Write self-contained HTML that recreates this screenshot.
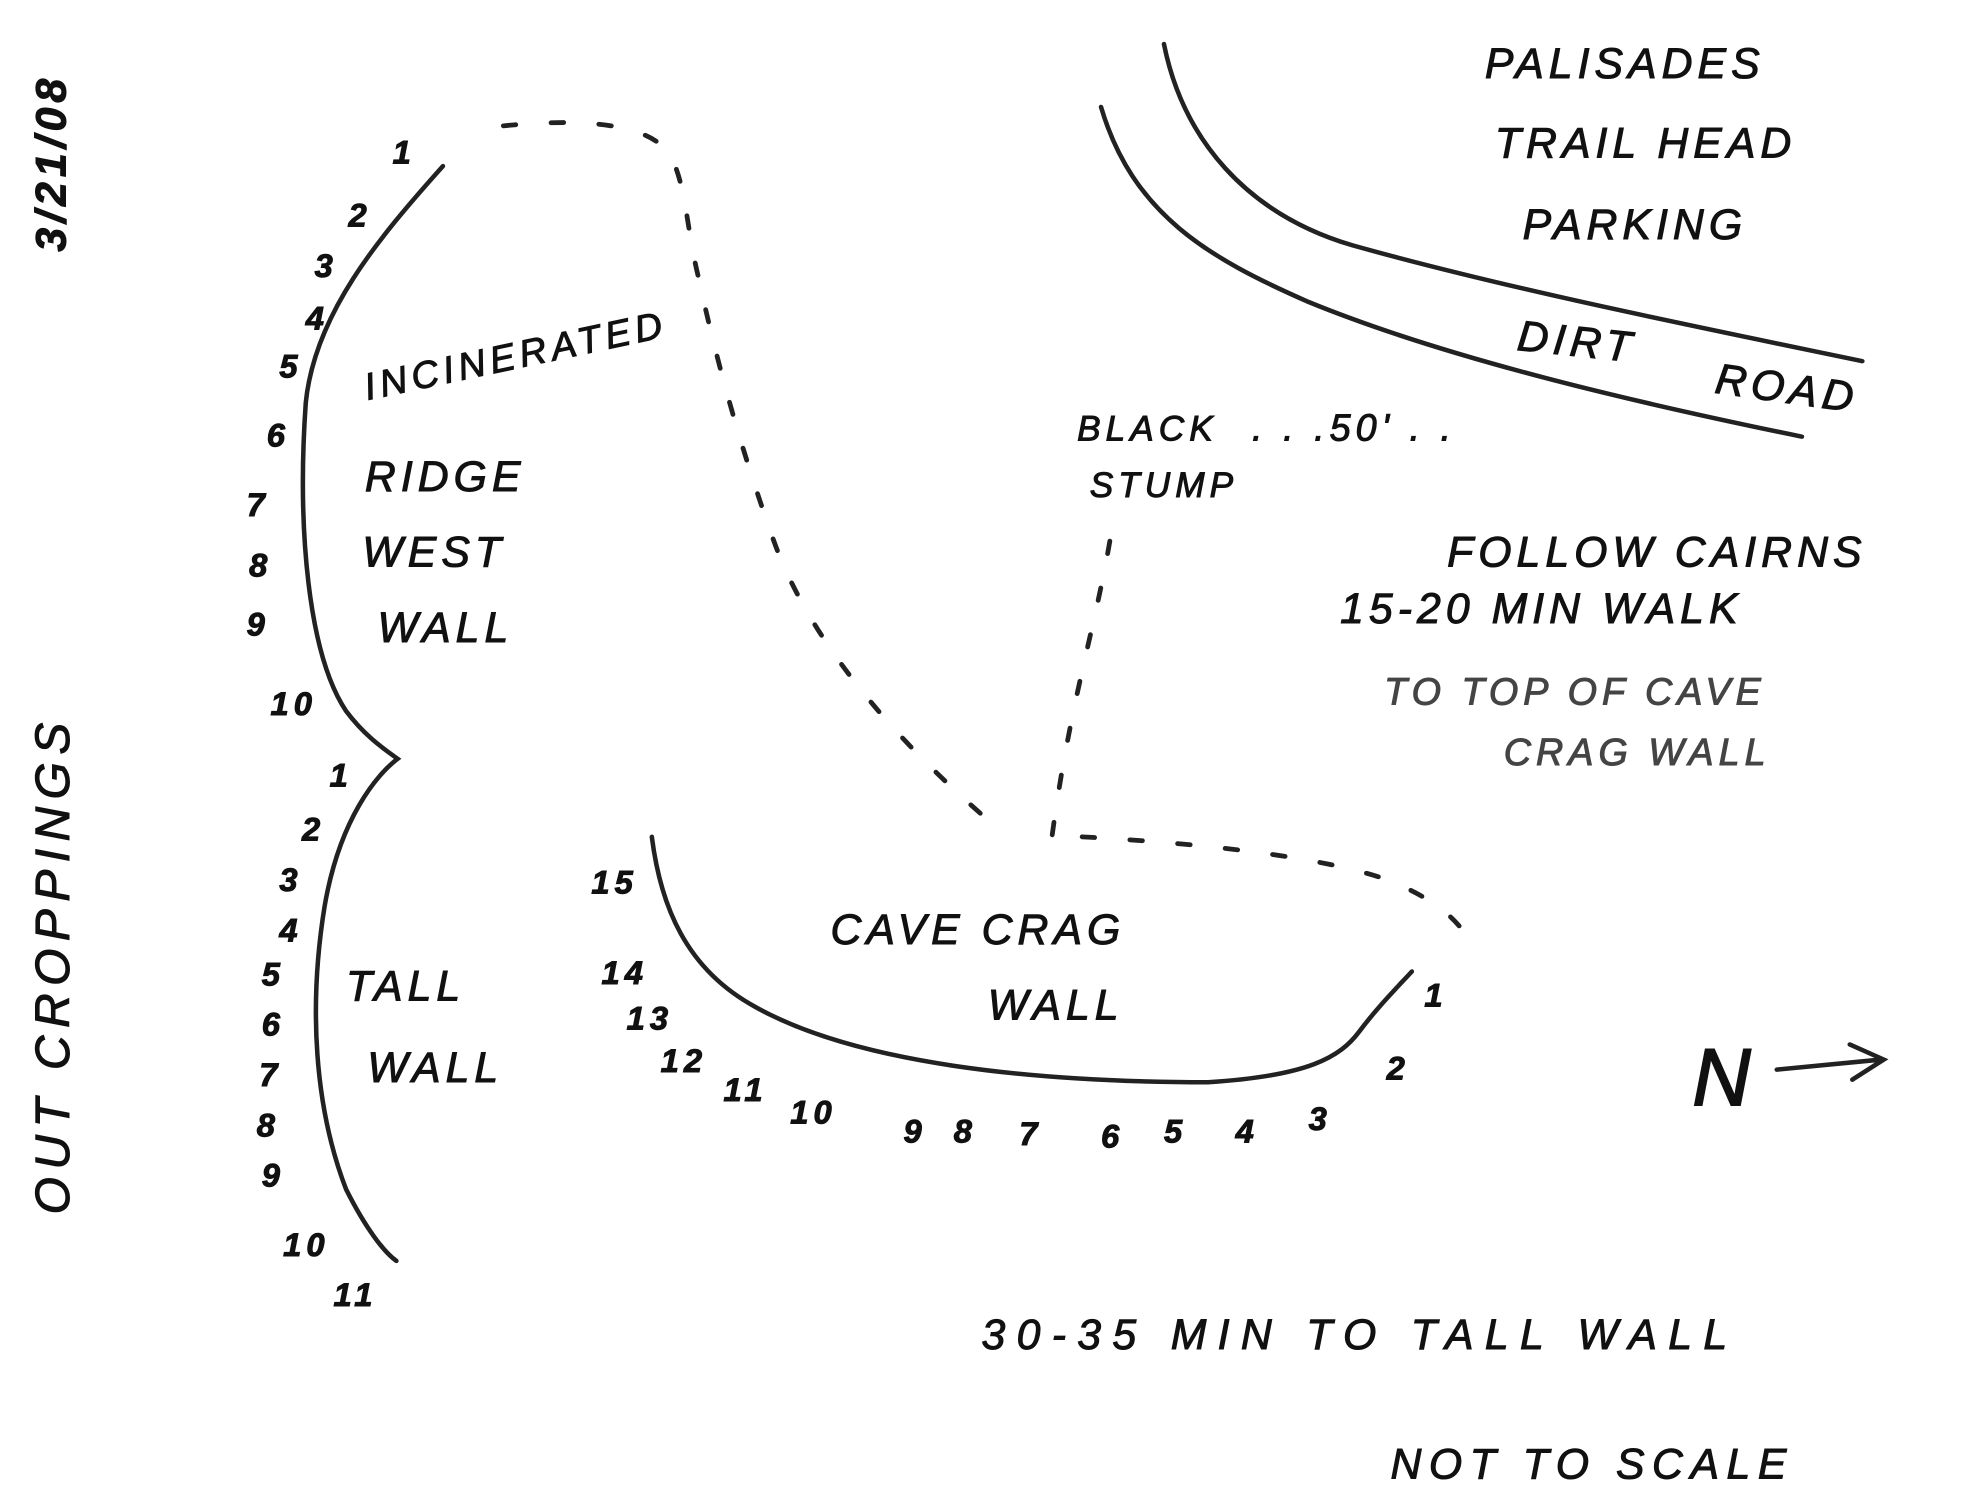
<!DOCTYPE html>
<html><head><meta charset="utf-8"><style>
html,body{margin:0;padding:0;background:#fff;width:1963px;height:1500px;overflow:hidden}
svg{display:block}
text{font-family:"Liberation Sans",sans-serif;font-style:italic;fill:#111;stroke:#111;stroke-width:0.8;letter-spacing:4px}
.l{fill:none;stroke:#222;stroke-width:3.6;stroke-linecap:round}
.d{fill:none;stroke:#222;stroke-width:3.8;stroke-linecap:round;stroke-dasharray:10 28}
.n{font-size:26px;font-weight:bold}
.t{font-size:34px}
</style></head><body>
<svg width="1963" height="1500" viewBox="0 0 1560 1192" preserveAspectRatio="none" xmlns="http://www.w3.org/2000/svg">
<text class="t" transform="translate(52,200) rotate(-90)" font-weight="bold">3/21/08</text>
<text class="t" transform="translate(55,965) rotate(-90)" style="font-size:38px;letter-spacing:6px">OUT CROPPINGS</text>

<path class="l" d="M352,132 C300,190 250,250 243,320 C236,420 245,520 275,565 C290,585 305,595 316,603 C300,615 270,650 258,720 C245,800 250,880 275,945 C290,975 305,995 315,1002"/>
<g class="n">
<text x="312" y="130">1</text><text x="277" y="180">2</text><text x="250" y="220">3</text><text x="243" y="262">4</text><text x="222" y="300">5</text><text x="212" y="355">6</text><text x="196" y="410">7</text><text x="198" y="458">8</text><text x="196" y="505">9</text><text x="215" y="568">10</text>
<text x="262" y="625">1</text><text x="240" y="668">2</text><text x="222" y="708">3</text><text x="222" y="748">4</text><text x="208" y="783">5</text><text x="208" y="823">6</text><text x="206" y="863">7</text><text x="204" y="903">8</text><text x="208" y="943">9</text><text x="225" y="998">10</text><text x="265" y="1038">11</text>
</g>
<text class="t" transform="translate(292,318) rotate(-12)" style="font-size:30px">INCINERATED</text>
<text class="t" x="290" y="390">RIDGE</text>
<text class="t" x="288" y="450">WEST</text>
<text class="t" x="300" y="510">WALL</text>

<path class="d" d="M400,100 C450,95 510,95 530,120 C545,140 545,180 555,220 C570,290 590,360 615,430 C640,500 700,580 795,660"/>
<path class="d" d="M882,430 C870,500 850,560 836,665"/>
<path class="d" d="M860,665 C950,670 1050,680 1105,700 C1140,715 1160,730 1172,755"/>

<path class="l" d="M518,665 C525,720 545,770 600,800 C680,845 820,860 960,860 C1040,855 1065,840 1080,820 C1095,800 1110,785 1122,772"/>
<text class="t" x="275" y="795">TALL</text>
<text class="t" x="292" y="860">WALL</text>
<text class="t" x="660" y="750">CAVE CRAG</text>
<text class="t" x="785" y="810">WALL</text>
<g class="n">
<text x="470" y="710">15</text><text x="478" y="782">14</text><text x="498" y="818">13</text><text x="525" y="852">12</text><text x="575" y="875">11</text><text x="628" y="893">10</text><text x="718" y="908">9</text><text x="758" y="908">8</text><text x="810" y="910">7</text><text x="875" y="912">6</text><text x="925" y="908">5</text><text x="982" y="908">4</text><text x="1040" y="898">3</text><text x="1102" y="858">2</text><text x="1132" y="800">1</text>
</g>

<path class="l" d="M925,35 C940,110 990,170 1075,195 C1200,230 1350,260 1480,287"/>
<path class="l" d="M875,85 C900,170 960,205 1040,240 C1150,285 1300,320 1432,347"/>
<text class="t" x="1180" y="62">PALISADES</text>
<text class="t" x="1188" y="125">TRAIL HEAD</text>
<text class="t" x="1210" y="190">PARKING</text>
<text class="t" transform="translate(1205,278) rotate(6)">DIRT</text>
<text class="t" transform="translate(1362,312) rotate(8)">ROAD</text>
<text class="t" x="856" y="350" style="font-size:28px">BLACK</text>
<text class="t" x="866" y="395" style="font-size:28px">STUMP</text>
<text class="t" x="995" y="350" style="font-size:30px">. . .50' . .</text>
<text class="t" x="1150" y="450">FOLLOW CAIRNS</text>
<text class="t" x="1065" y="495">15-20 MIN WALK</text>
<text class="t" x="1100" y="560" style="fill:#444;stroke:#444;font-size:30px">TO TOP OF CAVE</text>
<text class="t" x="1195" y="608" style="fill:#444;stroke:#444;font-size:30px">CRAG WALL</text>
<text x="1345" y="878" style="font-size:64px;stroke-width:1.5">N</text>
<path class="l" d="M1412,850 L1495,842 M1470,830 L1497,842 L1472,858"/>
<text class="t" x="780" y="1072" style="letter-spacing:9px">30-35 MIN  TO  TALL WALL</text>
<text class="t" x="1105" y="1175" style="letter-spacing:6px">NOT TO SCALE</text>
</svg>
</body></html>
